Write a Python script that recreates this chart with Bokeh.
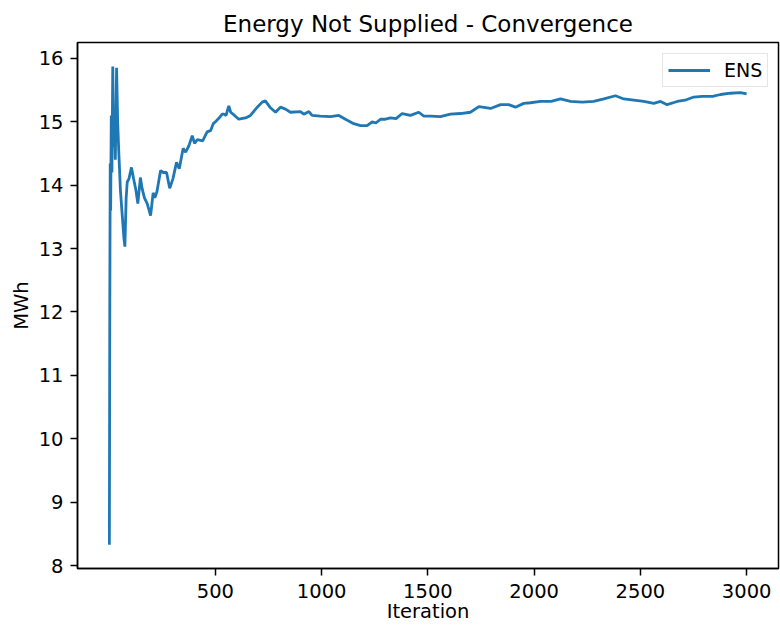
from bokeh.plotting import figure
from bokeh.models import Range1d, FixedTicker, ColumnDataSource
from bokeh.embed import file_html
from bokeh.resources import INLINE

# Data (iteration, running ENS estimate in MWh)
iterations = [1, 3, 5, 7, 10, 13, 17, 21, 25, 29, 35, 40, 45, 53, 61, 69, 74, 80, 85,
              93, 105, 115, 126, 135, 147, 155, 166, 179, 195, 207, 215, 225, 242, 255,
              270, 285, 300, 317, 330, 348, 360, 375, 391, 402, 415, 440, 461, 477, 490,
              500, 515, 532, 540, 550, 563, 572, 590, 610, 642, 665, 697, 720, 735, 759,
              783, 806, 830, 853, 900, 916, 940, 955, 994, 1042, 1081, 1112, 1151, 1183,
              1214, 1238, 1255, 1277, 1300, 1324, 1350, 1379, 1418, 1457, 1481, 1512,
              1559, 1606, 1653, 1700, 1740, 1795, 1842, 1880, 1912, 1951, 1983, 2030,
              2080, 2124, 2171, 2226, 2280, 2328, 2383, 2422, 2469, 2516, 2563, 2595,
              2626, 2673, 2710, 2751, 2790, 2840, 2877, 2924, 2971, 3000]
ens_mwh = [8.33, 12.10, 14.34, 13.60, 15.10, 14.20, 15.87, 14.60, 15.20, 14.40, 15.85,
           15.00, 14.55, 13.92, 13.55, 13.18, 13.03, 13.80, 14.05, 14.10, 14.28, 14.10,
           13.92, 13.71, 14.12, 13.95, 13.80, 13.71, 13.52, 13.88, 13.80, 13.90, 14.23,
           14.20, 14.20, 13.95, 14.10, 14.36, 14.26, 14.58, 14.52, 14.62, 14.78, 14.66,
           14.72, 14.70, 14.84, 14.86, 14.97, 15.00, 15.05, 15.12, 15.12, 15.10, 15.25,
           15.15, 15.10, 15.04, 15.06, 15.10, 15.23, 15.31, 15.33, 15.22, 15.15, 15.23,
           15.20, 15.15, 15.16, 15.12, 15.16, 15.10, 15.09, 15.08, 15.10, 15.04, 14.97,
           14.94, 14.94, 15.00, 14.98, 15.04, 15.04, 15.06, 15.05, 15.13, 15.10, 15.15,
           15.09, 15.09, 15.08, 15.12, 15.13, 15.15, 15.24, 15.21, 15.27, 15.27, 15.23,
           15.29, 15.30, 15.32, 15.32, 15.36, 15.32, 15.31, 15.32, 15.36, 15.41, 15.36,
           15.34, 15.32, 15.29, 15.32, 15.27, 15.32, 15.34, 15.39, 15.40, 15.40, 15.43,
           15.45, 15.46, 15.44]

x_ticks = [500, 1000, 1500, 2000, 2500, 3000]
y_ticks = [8, 9, 10, 11, 12, 13, 14, 15, 16]
x_min, x_max = -149, 3150
y_min, y_max = 7.955, 16.25

FONT = "DejaVu Sans"

src = ColumnDataSource(data=dict(x=iterations, y=ens_mwh))

p = figure(width=780, height=631, output_backend="svg", toolbar_location=None,
           x_range=Range1d(x_min, x_max), y_range=Range1d(y_min, y_max),
           title="Energy Not Supplied - Convergence",
           min_border_left=77, min_border_right=2, min_border_top=42,
           min_border_bottom=63)

p.line("x", "y", source=src, line_color="#1f77b4", line_width=2.8, legend_label="ENS")

p.title.text_font = FONT
p.title.text_font_size = "23px"
p.title.text_font_style = "normal"
p.title.text_color = "#000000"
p.title.align = "center"
p.title.standoff = 12

p.xgrid.grid_line_color = None
p.ygrid.grid_line_color = None
p.outline_line_color = "#000000"
p.outline_line_width = 1.5
p.outline_line_alpha = 1.0
p.background_fill_color = "white"
p.border_fill_color = "white"

p.xaxis.ticker = FixedTicker(ticks=x_ticks)
p.yaxis.ticker = FixedTicker(ticks=y_ticks)
p.xaxis.axis_label = "Iteration"
p.yaxis.axis_label = "MWh"
for ax in (p.xaxis, p.yaxis):
    ax.axis_line_color = "#000000"
    ax.axis_line_width = 1.5
    ax.major_tick_line_color = "#000000"
    ax.major_tick_line_width = 1.5
    ax.major_tick_out = 7
    ax.major_tick_in = 0
    ax.minor_tick_line_color = None
    ax.major_label_text_font = FONT
    ax.major_label_text_font_size = "19.5px"
    ax.major_label_text_color = "#000000"
    ax.major_label_standoff = 7
    ax.axis_label_text_font = FONT
    ax.axis_label_text_font_size = "19.5px"
    ax.axis_label_text_font_style = "normal"
    ax.axis_label_text_color = "#000000"
p.xaxis.major_label_standoff = 8
p.xaxis.axis_label_standoff = -1
p.yaxis.axis_label_standoff = 3

p.legend.location = (585, 481)
p.legend.padding = 5
p.legend.glyph_width = 42
p.legend.glyph_height = 20
p.legend.label_height = 20
p.legend.label_standoff = 14
p.legend.label_text_font = FONT
p.legend.label_text_font_size = "19px"
p.legend.label_text_color = "#000000"
p.legend.border_line_color = "#cccccc"
p.legend.border_line_width = 1.5
p.legend.background_fill_alpha = 0.8

open("out.html", "w").write(file_html(p, INLINE))
